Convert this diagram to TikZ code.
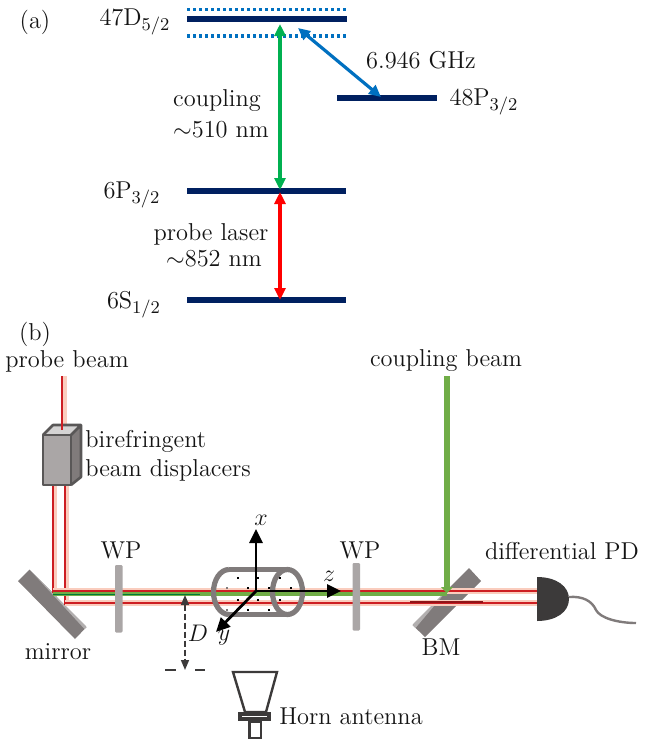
\documentclass[tikz,border=0pt]{standalone}
\usetikzlibrary{arrows.meta}
\definecolor{navy}{RGB}{0,32,96}
\definecolor{lvlblue}{RGB}{0,112,192}
\definecolor{cgreen}{RGB}{0,176,80}
\definecolor{bgreen}{RGB}{112,173,71}
\definecolor{mgray}{RGB}{128,123,123}
\definecolor{wpgray}{RGB}{170,166,166}
\definecolor{dark}{RGB}{60,58,58}
\definecolor{pale}{RGB}{250,205,190}
\definecolor{beamred}{RGB}{205,30,35}
\tikzset{
  lbl/.style={inner sep=0pt,font=\fontsize{12.2}{14}\selectfont,text=black!92},
  level/.style={navy,line width=2.8pt},
  dots/.style={lvlblue,line width=1.6pt,dash pattern=on 1.5pt off 1.5pt},
  trans/.style={line width=1.6pt,{Triangle[width=5.5pt,length=6pt]}-{Triangle[width=5.5pt,length=6pt]}},
  halo/.style={pale,line width=3pt},
  core/.style={beamred,line width=1pt},
  wp/.style={wpgray,fill=wpgray,rounded corners=0.6pt},
  axis/.style={black,line width=1.4pt,-{Triangle[width=6.5pt,length=7pt]}},
}
\begin{document}
\begin{tikzpicture}[x=0.5pt,y=-0.5pt]
\useasboundingbox (0,0) rectangle (644,740);
% ---- energy levels
\coordinate (d1) at (187,19); \coordinate (d2) at (347,19);
\coordinate (p1) at (187,191); \coordinate (p2) at (346,191);
\coordinate (s1) at (187,300); \coordinate (s2) at (346,300);
\coordinate (r1) at (337,98); \coordinate (r2) at (437,98);
\coordinate (up1) at (187,9.5); \coordinate (up2) at (347,9.5);
\coordinate (lo1) at (187,36); \coordinate (lo2) at (347,36);
\draw[dots] (up1) -- (up2);
\draw[dots] (lo1) -- (lo2);
\draw[level] (d1) -- (d2);
\draw[level] (p1) -- (p2);
\draw[level] (s1) -- (s2);
\draw[level] (r1) -- (r2);
\coordinate (ga) at (280,24); \coordinate (gb) at (280,190);
\coordinate (ra) at (280,192); \coordinate (rb) at (280,300);
\coordinate (ba) at (298,28); \coordinate (bb) at (381,97);
\draw[trans,cgreen] (ga) -- (gb);
\draw[trans,red] (ra) -- (rb);
\draw[trans,lvlblue] (ba) -- (bb);
\node[lbl] (a) at (35,22) {(a)};
\node[lbl] (t47) at (135,22) {47D$_{5/2}$};
\node[lbl] (t48) at (484,102) {48P$_{3/2}$};
\node[lbl] (t6p) at (132,195) {6P$_{3/2}$};
\node[lbl] (t6s) at (134,305) {6S$_{1/2}$};
\node[lbl] (tghz) at (421,60) {6.946 GHz};
\node[lbl] (tc1) at (217,101) {coupling};
\node[lbl] (tc2) at (221,130) {$\sim$510 nm};
\node[lbl] (tp1) at (211,234) {probe laser};
\node[lbl] (tp2) at (214,259) {$\sim$852 nm};
\node[lbl] (b) at (35,334) {(b)};
\node[lbl] (tprobe) at (67,361) {probe beam};
\node[lbl] (tcoup) at (446,361) {coupling beam};
\node[lbl,anchor=west] (tbi) at (85,441) {birefringent};
\node[lbl,anchor=west] (tbe) at (85,470) {beam displacers};
\node[lbl] (twp1) at (121,550) {WP};
\node[lbl] (twp2) at (360,550) {WP};
\node[lbl] (tdpd) at (562,551) {differential PD};
\node[lbl] (tmir) at (58,652) {mirror};
\node[lbl] (tbm) at (441,647) {BM};
\node[lbl] (thorn) at (351,716) {Horn antenna};
% ---- beams
\coordinate (in0) at (62,376); \coordinate (in1) at (62,430);
\coordinate (v1t) at (52.5,484); \coordinate (v1b) at (52.5,593);
\coordinate (v2t) at (64.5,484); \coordinate (v2b) at (64.5,605);
\coordinate (h1l) at (52.5,591); \coordinate (h2l) at (64.5,603);
\coordinate (h1r) at (537,591); \coordinate (h2r) at (537,603);
\draw[halo,line width=2.6pt] ([xshift=1pt]in0) -- ([xshift=1pt]in1);
\draw[core] (in0) -- (in1);
% mirrors behind beams
\fill[mgray] (29.5,569.5) -- (18,581) -- (75,639) -- (86.5,627) -- cycle;
\fill[wpgray!90] (29.5,569.5) -- (86.5,627) -- (84.5,629) -- cycle;
\draw[halo,line width=2.6pt] ([xshift=1pt]v1t) -- ([xshift=1pt]v1b);
\draw[halo,line width=2.6pt] ([xshift=1pt]v2t) -- ([xshift=1pt]v2b);
\draw[core] (v1t) -- (v1b);
\draw[core] (v2t) -- (v2b);
\fill[mgray] (469,568) -- (481,581) -- (425,637) -- (412.5,625) -- cycle;
\fill[wpgray!90] (412.5,625) -- (450,587) -- (415.5,628) -- cycle;
% horizontal beams
\draw[halo] (h1l) -- (h1r);
\draw[halo] (h2l) -- (h2r);
\coordinate (gs) at (52.5,594); \coordinate (ge) at (447,594);
\draw[bgreen,line width=1.6pt] (gs) -- (ge);
\draw[core] (h1l) -- (h1r);
\draw[core] (h2l) -- (h2r);
\coordinate (ts) at (52.5,594.5); \coordinate (te) at (200,594.5);
\draw[cgreen!70!black,line width=0.5pt] (ts) -- (te);
\coordinate (cb0) at (447,376); \coordinate (cb1) at (447,593);
\draw[bgreen,line width=2.8pt,-{Triangle[width=6pt,length=3pt]}] (cb0) -- (cb1);
\coordinate (bl1) at (410,602); \coordinate (bl2) at (483,602);
\draw[beamred!70!black,line width=0.6pt] (bl1) -- (bl2);
% ---- displacer
\fill[wpgray!50] (43,435) -- (53,425) -- (81,425) -- (71,435) -- cycle;
\fill[mgray] (71,435) -- (81,425) -- (81,477) -- (71,485) -- cycle;
\fill[wpgray] (43,435) rectangle (71,485);
\draw[dark!85,line width=1.3pt,line join=round] (43,435) rectangle (71,485);
\draw[dark!85,line width=1.3pt,line join=round] (43,435) -- (53,425) -- (81,425) -- (81,477) -- (71,485) (71,435) -- (81,425);
\draw[core] (in0) -- (in1);
% ---- wave plates
\fill[wp] (115,565) rectangle (122.5,632.5);
\fill[wp] (352.5,563) rectangle (360,630.5);
% ---- vapour cell
\draw[mgray,line width=2.6pt] (229,569.5) -- (287.5,569.5) (229,614.5) -- (287.5,614.5);
\draw[mgray,line width=2.6pt] (229,569.5) arc[start angle=270,end angle=90,x radius=15.5,y radius=22.5];
\draw[mgray,line width=2.6pt] (287.5,592) ellipse[x radius=15,y radius=22.5];
\foreach \x/\y in {238/578,258/578,280/578,248/588,269/588,291/588,238/600,258/600,280/600,248/610,269/610}
  \fill[black] (\x-1,\y-1) rectangle (\x+1,\y+1);
\foreach \x/\y in {227/588,227/610}
  \fill[mgray] (\x-1,\y-1) rectangle (\x+1,\y+1);
% ---- axes
\coordinate (o) at (256,591);
\coordinate (ax) at (256,529); \coordinate (az) at (341,591); \coordinate (ay) at (216,632);
\draw[axis] (o) -- (ax);
\draw[axis] (o) -- (az);
\draw[axis] (o) -- (ay);
\node[lbl] (tx) at (261,520) {$x$};
\node[lbl] (tz) at (329,576) {$z$};
\node[lbl] (ty) at (224,638) {$y$};
% ---- distance D
\coordinate (da) at (185,595); \coordinate (db) at (185,670);
\draw[dark,line width=0.8pt,dash pattern=on 3pt off 1.5pt,{Triangle[width=4pt,length=5pt]}-{Triangle[width=4pt,length=5pt]}] (da) -- (db);
\coordinate (e1) at (165,670); \coordinate (e2) at (176,670); \coordinate (e3) at (195,670); \coordinate (e4) at (205,670);
\draw[dark,line width=1pt] (e1) -- (e2) (e3) -- (e4);
\node[lbl] (tD) at (198,633) {$D$};
% ---- horn
\draw[dark,line width=1.2pt,line join=miter] (233,672) -- (277,672) -- (266,712) -- (245,712) -- cycle;
\fill[dark] (238,712) rectangle (271,721);
\coordinate (fl1) at (242,716.5); \coordinate (fl2) at (267,716.5);
\draw[white,line width=0.5pt] (fl1) -- (fl2);
\draw[dark,line width=1.4pt] (249.5,722) rectangle (261,738);
% ---- detector
\fill[dark] (537,577) .. controls (556,577) and (569,586) .. (569,599) .. controls (569,612) and (556,621) .. (537,621) -- cycle;
\coordinate (w0) at (569,597); \coordinate (w3) at (636,623);
\draw[mgray,line width=1.2pt] (w0) .. controls (583,596) and (592,601) .. (596,610) .. controls (600,618) and (618,623) .. (w3);
\end{tikzpicture}
\end{document}
